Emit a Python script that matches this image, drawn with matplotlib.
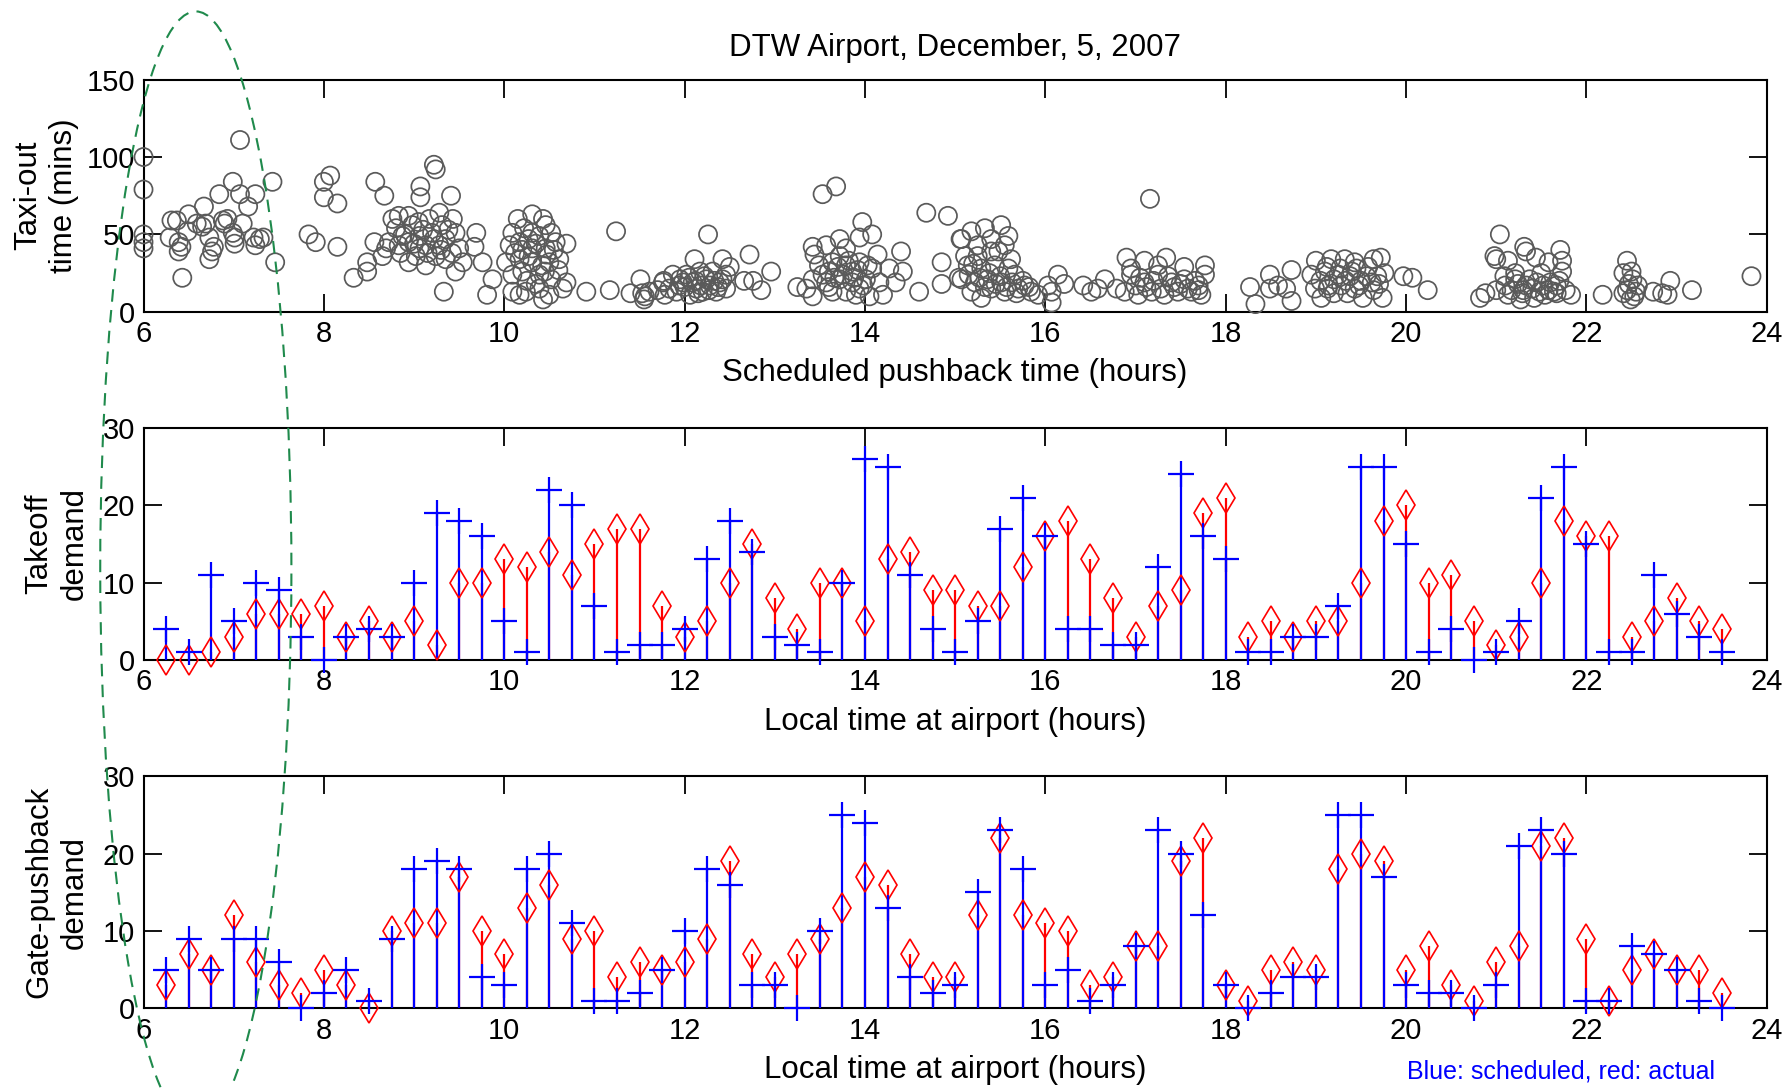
import matplotlib
matplotlib.use('Agg')
import matplotlib.pyplot as plt
from matplotlib.patches import Ellipse

plt.rcParams['font.family'] = ['Liberation Sans', 'DejaVu Sans']

# ---- data ----
# 15-minute slots, 6:15 .. 23:30
slot_hours = [6.25, 6.5, 6.75, 7.0, 7.25, 7.5, 7.75, 8.0, 8.25, 8.5, 8.75, 9.0,
              9.25, 9.5, 9.75, 10.0, 10.25, 10.5, 10.75, 11.0, 11.25, 11.5, 11.75, 12.0,
              12.25, 12.5, 12.75, 13.0, 13.25, 13.5, 13.75, 14.0, 14.25, 14.5, 14.75, 15.0,
              15.25, 15.5, 15.75, 16.0, 16.25, 16.5, 16.75, 17.0, 17.25, 17.5, 17.75, 18.0,
              18.25, 18.5, 18.75, 19.0, 19.25, 19.5, 19.75, 20.0, 20.25, 20.5, 20.75, 21.0,
              21.25, 21.5, 21.75, 22.0, 22.25, 22.5, 22.75, 23.0, 23.25, 23.5]

takeoff_sched = [4, 1, 11, 5, 10, 9, 3, 0, 3, 4, 3, 10,
                 19, 18, 16, 5, 1, 22, 20, 7, 1, 2, 2, 4,
                 13, 18, 14, 3, 2, 1, 10, 26, 25, 11, 4, 1,
                 5, 17, 21, 16, 4, 4, 2, 2, 12, 24, 16, 13,
                 1, 1, 3, 3, 7, 25, 25, 15, 1, 4, 0, 1,
                 5, 21, 25, 15, 1, 1, 11, 6, 3, 1]
takeoff_actual = [0, 0, 1, 3, 6, 6, 6, 7, 3, 5, 3, 5,
                  2, 10, 10, 13, 12, 14, 11, 15, 17, 17, 7, 3,
                  5, 10, 15, 8, 4, 10, 10, 5, 13, 14, 9, 9,
                  7, 7, 12, 16, 18, 13, 8, 3, 7, 9, 19, 21,
                  3, 5, 3, 5, 5, 10, 18, 20, 10, 11, 5, 2,
                  3, 10, 18, 16, 16, 3, 5, 8, 5, 4]

pushback_sched = [5, 9, 5, 9, 9, 6, 0, 2, 5, 1, 9, 18,
                  19, 18, 4, 3, 18, 20, 11, 1, 1, 2, 5, 10,
                  18, 16, 3, 3, 0, 10, 25, 24, 13, 4, 2, 3,
                  15, 23, 18, 3, 5, 1, 3, 8, 23, 20, 12, 3,
                  0, 2, 4, 4, 25, 25, 17, 3, 2, 2, 0, 3,
                  21, 23, 20, 1, 1, 8, 7, 5, 1, 0]
pushback_actual = [3, 7, 5, 12, 6, 3, 2, 5, 3, 0, 10, 11,
                   11, 17, 10, 7, 13, 16, 9, 10, 4, 6, 5, 6,
                   9, 19, 7, 4, 7, 9, 13, 17, 16, 7, 4, 4,
                   12, 22, 12, 11, 10, 3, 4, 8, 8, 19, 22, 3,
                   1, 5, 6, 5, 18, 20, 19, 5, 8, 3, 1, 6,
                   8, 21, 22, 9, 1, 5, 7, 5, 5, 2]

# taxi-out time (mins) vs scheduled pushback (hours)
taxi_morning = [
    (6.0, 100), (6.0, 79), (6.0, 50), (6.0, 45), (6.0, 41),
    (6.31, 59), (6.37, 59), (6.29, 48), (6.39, 45), (6.39, 39), (6.42, 42), (6.43, 22),
    (6.5, 63), (6.49, 52), (6.59, 57), (6.67, 68), (6.69, 57), (6.65, 55),
    (6.73, 48), (6.73, 34), (6.76, 39), (6.78, 42), (6.84, 76), (6.88, 59), (6.93, 60), (6.9, 57),
    (6.99, 84), (7.01, 48), (7.01, 44), (6.99, 51), (7.07, 111), (7.07, 76), (7.1, 57), (7.16, 68),
    (7.24, 76), (7.22, 48), (7.29, 47), (7.33, 48), (7.24, 43), (7.43, 84), (7.46, 32),
    (8.07, 88), (8.0, 84), (8.0, 74), (8.15, 70), (7.83, 50), (7.91, 45), (8.15, 42),
    (8.57, 84), (8.67, 75), (9.07, 81), (9.07, 74), (9.22, 95), (9.24, 92), (9.41, 75),
    (8.33, 22), (8.48, 26), (8.48, 32), (8.56, 45),
    (8.76, 60), (8.83, 62), (8.94, 62), (8.8, 54), (8.87, 49), (8.98, 56), (8.72, 45), (8.83, 43),
    (8.94, 45), (9.06, 49), (9.06, 41), (9.17, 60), (9.2, 51), (9.28, 64), (9.31, 56), (9.35, 47),
    (9.43, 60), (9.46, 51), (9.5, 41), (8.94, 32), (9.13, 30), (9.24, 36), (9.35, 34), (9.46, 26),
    (9.54, 32), (8.65, 36), (8.69, 41), (9.02, 36), (9.13, 43), (9.28, 43),
    (8.9, 50), (9.0, 44), (9.1, 53), (9.15, 38), (9.22, 47), (9.3, 40), (9.38, 53), (9.42, 38),
    (8.85, 38), (9.05, 58),
    (9.69, 51), (9.67, 42), (9.76, 32), (9.87, 21), (9.81, 11), (9.33, 13),
    (10.15, 60), (10.31, 63), (10.43, 60), (10.09, 51), (10.22, 54), (10.39, 49), (10.52, 51),
    (10.69, 44), (10.06, 43), (10.17, 45), (10.31, 41), (10.46, 41), (10.02, 32), (10.17, 34),
    (10.31, 32), (10.5, 32), (10.61, 34), (10.09, 24), (10.2, 26), (10.39, 24), (10.52, 21),
    (10.09, 13), (10.24, 13), (10.39, 15), (10.5, 11), (10.65, 15), (10.69, 19), (10.91, 13),
    (10.31, 51), (10.46, 56), (10.57, 45), (10.17, 11), (10.43, 8),
    (10.12, 38), (10.2, 40), (10.27, 36), (10.35, 44), (10.42, 30), (10.47, 37), (10.55, 40),
    (10.25, 20), (10.35, 18), (10.45, 26), (10.27, 47), (10.6, 27),
]
taxi_midday = [
    (11.17, 14), (11.24, 52), (11.4, 12), (11.51, 21), (11.55, 8), (11.53, 12), (11.7, 14),
    (11.77, 20), (11.56, 10), (11.61, 13), (11.76, 19), (11.78, 11),
    (11.87, 24), (11.94, 17), (12.02, 24), (12.09, 19), (12.17, 26), (12.24, 21), (12.31, 26),
    (12.39, 19), (12.46, 24), (11.91, 13), (12.06, 11), (12.2, 13), (12.35, 13), (12.46, 15),
    (12.13, 15), (11.98, 19), (12.28, 17), (11.83, 15),
    (12.0, 16), (12.05, 22), (12.12, 20), (12.18, 17), (12.22, 23), (12.27, 14), (12.33, 20),
    (12.37, 16), (12.42, 21), (11.95, 21), (12.15, 12),
    (12.11, 34), (12.42, 34), (12.5, 29), (12.26, 50), (12.72, 37), (12.96, 26), (12.76, 20),
    (12.85, 14), (12.66, 20),
    (13.25, 16), (13.42, 42), (13.44, 37), (13.42, 10), (13.53, 76), (13.68, 81), (13.57, 43),
    (13.72, 47), (13.79, 41), (13.97, 58), (14.08, 50), (13.94, 48), (14.14, 37), (13.49, 30),
    (13.64, 32), (13.79, 30), (13.94, 32), (14.08, 28), (13.42, 21), (13.57, 19), (13.72, 21),
    (13.86, 19), (14.01, 21), (14.16, 19), (13.35, 15), (13.64, 13), (13.79, 13), (13.94, 15),
    (14.05, 10), (14.2, 11), (13.72, 36), (13.86, 26),
    (13.6, 26), (13.66, 22), (13.7, 29), (13.76, 24), (13.82, 33), (13.88, 22), (13.92, 27),
    (13.98, 17), (14.03, 30), (13.53, 24), (13.6, 16), (13.9, 11),
    (14.4, 39), (14.42, 26), (14.34, 19), (14.27, 28), (14.6, 13), (14.68, 64), (14.92, 62),
    (14.85, 32), (14.85, 18), (15.04, 22), (15.06, 47),
]
taxi_afternoon = [
    (15.07, 47), (15.18, 52), (15.33, 54), (15.51, 56), (15.59, 49), (15.4, 47), (15.25, 43),
    (15.11, 36), (15.48, 39), (15.62, 34), (15.14, 30), (15.29, 28), (15.44, 30), (15.59, 28),
    (15.07, 21), (15.22, 19), (15.36, 21), (15.51, 19), (15.66, 24), (15.18, 13), (15.29, 9),
    (15.4, 15), (15.55, 13), (15.7, 15), (15.77, 17), (15.84, 13), (15.92, 11), (15.25, 36),
    (15.4, 39), (15.55, 43),
    (15.15, 24), (15.2, 31), (15.27, 22), (15.33, 16), (15.38, 25), (15.45, 18), (15.5, 23),
    (15.57, 16), (15.63, 19), (15.68, 12), (15.75, 20), (15.82, 16),
    (16.03, 17), (16.07, 6), (16.07, 13), (16.14, 24), (16.21, 18), (16.42, 17), (16.51, 13),
    (16.66, 21), (16.58, 15), (16.79, 15),
    (16.9, 35), (17.1, 33), (17.34, 35), (17.54, 29), (17.77, 30), (17.77, 24), (17.16, 73),
    (16.95, 24), (17.1, 19), (17.25, 24), (17.4, 19), (17.54, 21), (17.7, 17), (16.88, 13),
    (17.03, 11), (17.18, 13), (17.32, 11), (17.47, 13), (17.62, 13), (17.73, 11), (16.95, 28),
    (17.25, 30),
    (17.05, 22), (17.12, 16), (17.2, 20), (17.28, 15), (17.36, 23), (17.43, 16), (17.5, 18),
    (17.58, 15), (17.66, 20), (17.7, 14), (17.0, 17),
]
taxi_evening = [
    (18.27, 16), (18.33, 5), (18.49, 24), (18.49, 15), (18.73, 27), (18.73, 7), (18.67, 15),
    (18.58, 17),
    (19.0, 33), (19.17, 34), (19.32, 34), (18.95, 24), (19.1, 26), (19.25, 24), (19.4, 26),
    (18.99, 15), (19.13, 15), (19.28, 17), (19.43, 15),
    (19.43, 32), (19.64, 34), (19.72, 35), (19.56, 23), (19.68, 23), (19.76, 25), (19.48, 17),
    (19.64, 14), (19.52, 9), (19.74, 9), (19.14, 17), (19.06, 9), (19.35, 12),
    (19.05, 20), (19.12, 29), (19.2, 21), (19.27, 28), (19.33, 20), (19.38, 23), (19.45, 28),
    (19.5, 20), (19.58, 29), (19.62, 19), (19.7, 18), (19.2, 12),
    (19.97, 23), (20.07, 22), (20.24, 14), (20.82, 9), (20.88, 12),
    (21.04, 50), (21.0, 34), (20.98, 36), (21.13, 33), (21.31, 42), (21.33, 39), (21.44, 35),
    (21.58, 32), (21.71, 40), (21.73, 33), (21.73, 26), (21.09, 23), (21.21, 21), (21.33, 17),
    (21.45, 19), (21.58, 14), (21.67, 17), (21.0, 14), (21.13, 11), (21.29, 12), (21.42, 9),
    (21.54, 11), (21.67, 12), (21.77, 14), (21.83, 11), (21.21, 25), (21.5, 25),
    (21.1, 17), (21.17, 14), (21.24, 18), (21.3, 14), (21.37, 21), (21.4, 15), (21.48, 13),
    (21.52, 17), (21.6, 19), (21.64, 13), (21.7, 20), (21.27, 8),
    (22.18, 11), (22.45, 33), (22.41, 25), (22.51, 21), (22.45, 14), (22.53, 10), (22.41, 12),
    (22.57, 17), (22.49, 8), (22.47, 18), (22.55, 13), (22.5, 26),
    (22.74, 13), (22.84, 12), (22.93, 20), (22.9, 11), (23.17, 14), (23.83, 23),
]

taxi_pts = taxi_morning + taxi_midday + taxi_afternoon + taxi_evening
taxi_x = [p[0] for p in taxi_pts]
taxi_y = [p[1] for p in taxi_pts]

# ---- figure ----
fig = plt.figure(figsize=(17.85, 10.88), dpi=100)
L, W, H = 0.0804, 0.9094, 0.2134
ax1 = fig.add_axes([L, 0.7134, W, H])
ax2 = fig.add_axes([L, 0.3933, W, H])
ax3 = fig.add_axes([L, 0.0732, W, H])

LABEL_FS = 22.5


def style(ax, ymax, ystep):
    ax.set_xlim(6, 24)
    ax.set_ylim(0, ymax)
    ax.set_xticks(range(6, 25, 2))
    ax.set_yticks(range(0, ymax + 1, ystep))
    ax.tick_params(direction='in', top=True, right=True, length=13, width=1.3,
                   labelsize=21, pad=6)
    for s in ax.spines.values():
        s.set_linewidth(1.5)


def stems(ax, sched, actual):
    ax.vlines(slot_hours, 0, actual, colors='#ff0000', lw=1.6, zorder=2)
    ax.vlines(slot_hours, 0, sched, colors='#0000ff', lw=1.6, zorder=3)
    ax.plot(slot_hours, actual, 'd', mfc='none', mec='#ff0000', ms=15.5, mew=1.2,
            zorder=4, clip_on=False)
    ax.plot(slot_hours, sched, '+', color='#0000ff', ms=19, mew=1.6,
            zorder=5, clip_on=False)


style(ax1, 150, 50)
ax1.scatter(taxi_x, taxi_y, s=170, facecolors='none', edgecolors='#5a5a5a',
            linewidths=1.25, clip_on=False, zorder=3)
ax1.set_xlabel('Scheduled pushback time (hours)', fontsize=LABEL_FS)
ax1.set_ylabel('Taxi-out\ntime (mins)', fontsize=LABEL_FS, linespacing=1.25)
ax1.xaxis.set_label_coords(0.5, -0.20)
ax1.yaxis.set_label_coords(-0.040, 0.5)

style(ax2, 30, 10)
stems(ax2, takeoff_sched, takeoff_actual)
ax2.set_xlabel('Local time at airport (hours)', fontsize=LABEL_FS)
ax2.set_ylabel('Takeoff\ndemand', fontsize=LABEL_FS, linespacing=1.25)
ax2.xaxis.set_label_coords(0.5, -0.20)
ax2.yaxis.set_label_coords(-0.033, 0.5)

style(ax3, 30, 10)
stems(ax3, pushback_sched, pushback_actual)
ax3.set_xlabel('Local time at airport (hours)', fontsize=LABEL_FS)
ax3.set_ylabel('Gate-pushback\ndemand', fontsize=LABEL_FS, linespacing=1.25)
ax3.xaxis.set_label_coords(0.5, -0.20)
ax3.yaxis.set_label_coords(-0.033, 0.5)

fig.text(0.535, 1 - 42 / 956, 'DTW Airport, December, 5, 2007', fontsize=LABEL_FS,
         ha='center', va='center')

# green dashed highlight round the early-morning hours
fig.add_artist(Ellipse((0.1097, 0.477), 0.1071, 1.025, transform=fig.transFigure,
                       fill=False, ec='#1f8a4c', lw=1.5, ls=(0, (6, 4)), zorder=10))

# legend text along the bottom edge
fig.text(0.788, 0.004, 'Blue: scheduled, red: actual', color='#0000ff',
         fontsize=18, va='bottom')

fig.savefig('out.png', dpi=100)
